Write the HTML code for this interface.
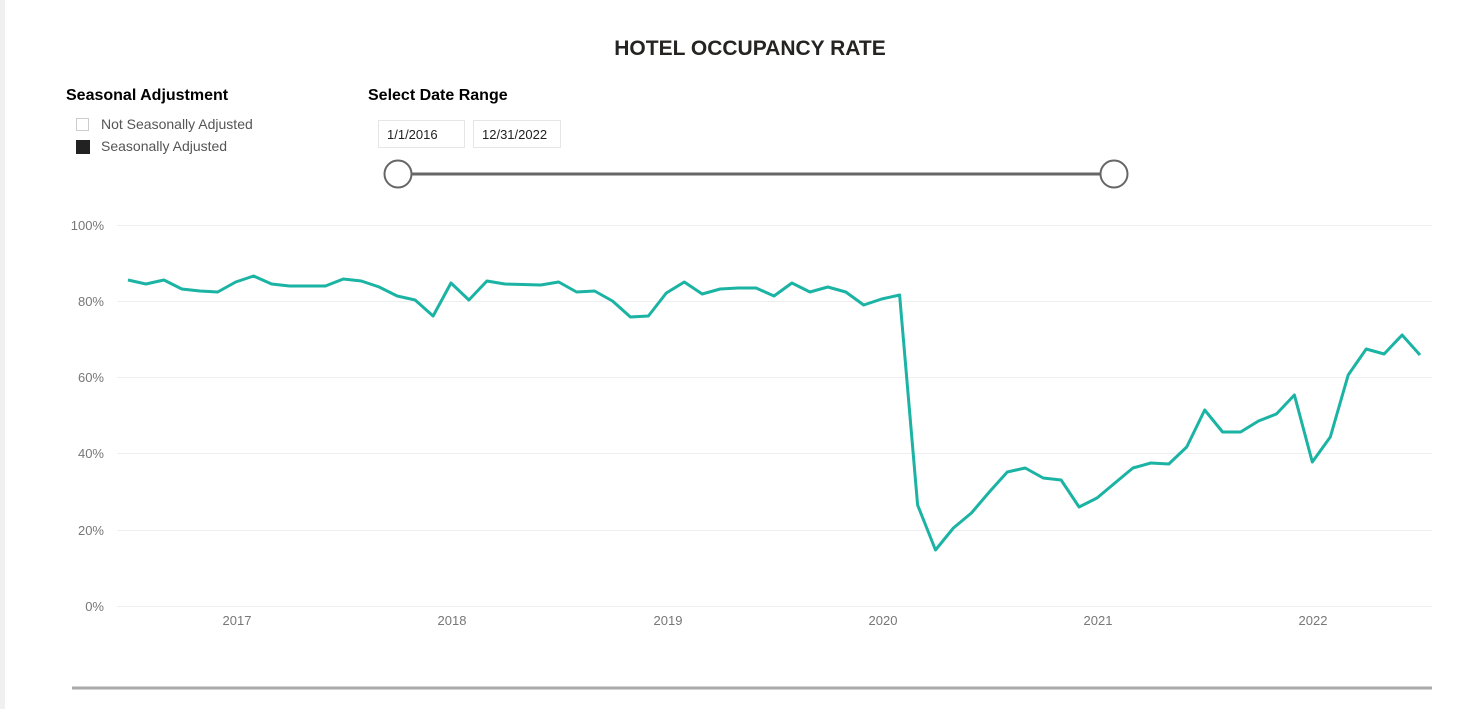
<!DOCTYPE html>
<html><head><meta charset="utf-8"><style>
body{margin:0;width:1473px;height:709px;background:#fff;font-family:"Liberation Sans","DejaVu Sans",sans-serif;position:relative;overflow:hidden}
.abs{position:absolute}
.box{position:absolute;top:120px;height:28px;border:1px solid #e6e6e6;font-size:13px;line-height:28px;color:#222;padding-left:8px;box-sizing:border-box}
</style></head><body>
<div class="abs" style="left:0;top:0;width:5px;height:709px;background:#f0f0f0"></div>
<div class="abs" style="left:0;width:1500px;top:37px;text-align:center;font-size:21px;font-weight:bold;color:#252423;">HOTEL OCCUPANCY RATE</div>
<div class="abs" style="left:66px;top:87px;font-size:16px;font-weight:bold;color:#000">Seasonal Adjustment</div>
<div class="abs" style="left:76px;top:118px;width:13px;height:13px;border:1px solid #ccc;box-sizing:border-box"></div>
<div class="abs" style="left:101px;top:116px;font-size:14px;color:#555">Not Seasonally Adjusted</div>
<div class="abs" style="left:76px;top:140px;width:14px;height:14px;background:#222"></div>
<div class="abs" style="left:101px;top:138px;font-size:14px;color:#555">Seasonally Adjusted</div>
<div class="abs" style="left:368px;top:87px;font-size:16px;font-weight:bold;color:#000">Select Date Range</div>
<div class="box" style="left:378px;width:87px">1/1/2016</div>
<div class="box" style="left:473px;width:88px">12/31/2022</div>
<svg class="abs" style="left:0;top:0" width="1473" height="709">
<line x1="398" y1="174" x2="1114" y2="174" stroke="#666" stroke-width="3"/>
<circle cx="398" cy="174" r="13.5" fill="#fff" stroke="#666" stroke-width="2"/>
<circle cx="1114" cy="174" r="13.5" fill="#fff" stroke="#666" stroke-width="2"/>
<g stroke="#eeeeee" stroke-width="1">
<line x1="117" x2="1432" y1="225.5" y2="225.5"/><line x1="117" x2="1432" y1="301.5" y2="301.5"/>
<line x1="117" x2="1432" y1="377.5" y2="377.5"/><line x1="117" x2="1432" y1="453.5" y2="453.5"/>
<line x1="117" x2="1432" y1="530.5" y2="530.5"/><line x1="117" x2="1432" y1="606.5" y2="606.5"/>
</g>
<g font-size="13" fill="#777" text-anchor="end">
<text x="104" y="230">100%</text><text x="104" y="306">80%</text><text x="104" y="382">60%</text>
<text x="104" y="458">40%</text><text x="104" y="535">20%</text><text x="104" y="611">0%</text>
</g>
<g font-size="13" fill="#777" text-anchor="middle">
<text x="237" y="625">2017</text><text x="452" y="625">2018</text><text x="668" y="625">2019</text>
<text x="883" y="625">2020</text><text x="1098" y="625">2021</text><text x="1313" y="625">2022</text>
</g>
<polyline id="ln" fill="none" stroke="#1bb3a3" stroke-width="3" stroke-linejoin="round"/>
<line x1="72" y1="688" x2="1432" y2="688" stroke="#aaa" stroke-width="3"/>
</svg>
<script>
var ys=[280,284,280,289,291,292,282,276,284,286,286,286,279,281,287,296,300,316,283,300,281,284,284.5,285,282,292,291,301,317,316,293,282,294,289,288,288,296,283,292,287,292,305,299,295,
505,550,528,513,492,472,468,478,480,507,498,483,468,463,464,447,410,432,432,421,414,395,462,437,375,349,354,335,355];
var n=ys.length,s=(1420-128)/(n-1),p=[];
for(var i=0;i<n;i++)p.push((128+i*s).toFixed(1)+","+ys[i]);
document.getElementById("ln").setAttribute("points",p.join(" "));
</script>
</body></html>
